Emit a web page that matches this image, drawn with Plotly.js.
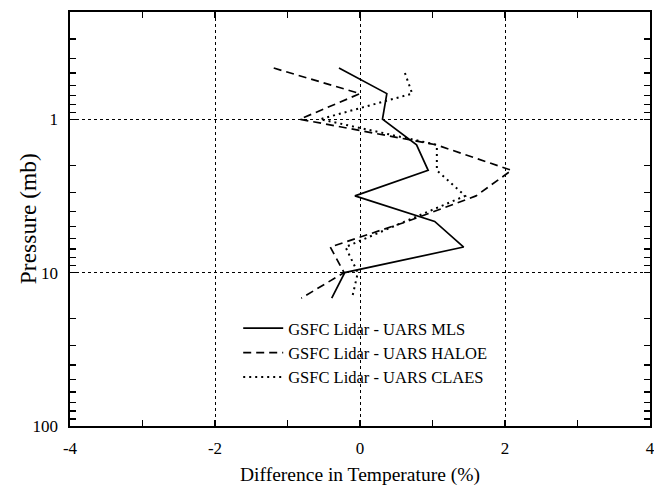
<!DOCTYPE html>
<html>
<head>
<meta charset="utf-8">
<script src="https://cdn.plot.ly/plotly-3.0.1.min.js"></script>
<style>html,body{margin:0;padding:0;background:#fff;}#chart{width:654px;height:486px;}</style>
</head>
<body>
<div id="chart"></div>
<script>
// Pressure levels (mb)
const pressure = [0.464, 0.681, 1, 1.468, 2.154, 3.162, 4.642, 6.813, 10, 14.68];
const pressureClaes = [0.5, 0.681, 1, 1.468, 2.154, 3.162, 4.642, 6.813, 10, 14.68];
// Temperature differences (%)
const mls   = [-0.29, 0.37, 0.31, 0.78, 0.94, -0.07, 1.03, 1.43, -0.21, -0.39];
const haloe = [-1.19, 0.00, -0.83, 1.05, 2.09, 1.60, 0.65, -0.41, -0.22, -0.81];
const claes = [0.62, 0.72, -0.55, 1.06, 1.06, 1.45, 0.62, -0.20, -0.03, -0.11];
const names = ["GSFC Lidar - UARS MLS", "GSFC Lidar - UARS HALOE", "GSFC Lidar - UARS CLAES"];
const xMajor = [-4, -2, 0, 2, 4];
const xMinor = [-3, -1, 1, 3];
const yMajor = [1, 10, 100];
const yMinor = [0.3,0.4,0.5,0.6,0.7,0.8,0.9,2,3,4,5,6,7,8,9,20,30,40,50,60,70,80,90];
const xTitle = "Difference in Temperature (%)";
const yTitle = "Pressure (mb)";

const font = "Liberation Serif, Times New Roman, serif";
const traces = [
  {x: mls, y: pressure, name: names[0], mode: "lines",
   line: {color: "#000", width: 1.7, dash: "solid"}},
  {x: haloe, y: pressure, name: names[1], mode: "lines",
   line: {color: "#000", width: 1.7, dash: "8px,5px"}},
  {x: claes, y: pressureClaes, name: names[2], mode: "lines",
   line: {color: "#000", width: 2, dash: "2px,4px"}}
];
const axisCommon = {
  showline: true, linecolor: "#000", linewidth: 1.6, mirror: "ticks",
  ticks: "inside", ticklen: 6, tickwidth: 1.3, tickcolor: "#000",
  showgrid: true, gridcolor: "#000", gridwidth: 1, griddash: "dot",
  zeroline: false, tickfont: {family: font, size: 17, color: "#000"},
  tickmode: "array", ticklabeloverflow: "allow"
};
const layout = {
  width: 654, height: 486,
  margin: {l: 70, r: 4, t: 12, b: 60},
  paper_bgcolor: "#fff", plot_bgcolor: "#fff",
  font: {family: font, color: "#000"},
  showlegend: true,
  legend: {x: 0.29, y: 0.278, xanchor: "left", yanchor: "top",
           bgcolor: "rgba(0,0,0,0)", borderwidth: 0, itemwidth: 40,
           font: {family: font, size: 16.5, color: "#000"},
           tracegroupgap: 0},
  xaxis: Object.assign({}, axisCommon, {
    range: [-4, 4], tickvals: xMajor, ticktext: xMajor.map(String),
    ticklabelstandoff: 6,
    minor: {tickvals: xMinor, ticks: "inside", ticklen: 6, tickcolor: "#000", showgrid: false},
    title: {text: xTitle, font: {family: font, size: 19.5, color: "#000"}}
  }),
  yaxis: Object.assign({}, axisCommon, {
    type: "log", range: [2, Math.log10(0.2)],
    tickvals: yMajor, ticktext: yMajor.map(String),
    minor: {tickvals: yMinor, ticks: "inside", ticklen: 6, tickcolor: "#000", showgrid: false},
    ticklabelstandoff: 7
  }),
  annotations: [{
    text: yTitle, xref: "paper", yref: "paper", x: -0.072, y: 0.5,
    xanchor: "center", yanchor: "middle", textangle: -90, showarrow: false,
    font: {family: font, size: 23.5, color: "#000"}
  }]
};
Plotly.newPlot("chart", traces, layout, {displayModeBar: false, staticPlot: true});
</script>
</body>
</html>
